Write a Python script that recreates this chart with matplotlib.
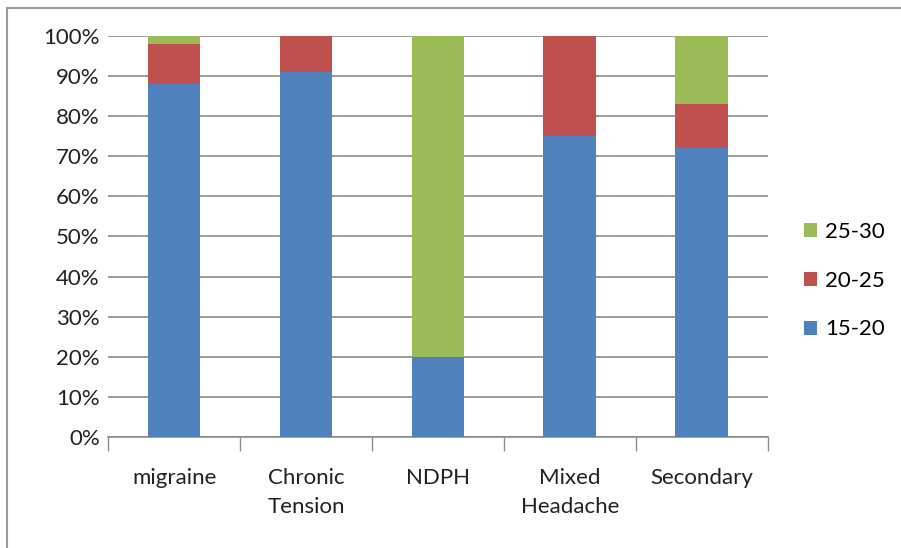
import matplotlib.pyplot as plt
from matplotlib.patches import Rectangle
from matplotlib.ticker import FuncFormatter, FixedLocator
import numpy as np

plt.rcParams['font.family'] = ['Lato', 'DejaVu Sans']

# headache groups and share of each age band (%)
categories = ["migraine", "Chronic\nTension", "NDPH", "Mixed\nHeadache", "Secondary"]
band_15_20 = [88, 91, 20, 75, 72]
band_20_25 = [10, 9, 0, 25, 11]
band_25_30 = [2, 0, 80, 0, 17]

colors = {"15-20": "#4f81bd", "20-25": "#c0504d", "25-30": "#9bbb59"}

fig = plt.figure(figsize=(9.01, 5.48), dpi=100)
ax = fig.add_axes([0.12, 0.2026, 0.732, 0.7317])

x = np.arange(len(categories))
w = 0.4
b1 = ax.bar(x, band_15_20, w, color=colors["15-20"], label="15-20", zorder=3)
b2 = ax.bar(x, band_20_25, w, bottom=band_15_20, color=colors["20-25"], label="20-25", zorder=3)
bottom3 = np.array(band_15_20) + np.array(band_20_25)
b3 = ax.bar(x, band_25_30, w, bottom=bottom3, color=colors["25-30"], label="25-30", zorder=3)

ax.set_xlim(-0.5, len(categories) - 0.5)
ax.set_ylim(0, 100)
ax.set_yticks(np.arange(0, 101, 10))
ax.yaxis.set_major_formatter(FuncFormatter(lambda v, p: f"{int(v)}%"))
ax.grid(axis='y', color='#8c8c8c', linewidth=1.2, zorder=0)
ax.tick_params(axis='y', length=0, labelsize=16, pad=6, colors='#222222')

# category labels between boundary ticks
ax.xaxis.set_major_locator(FixedLocator(np.arange(-0.5, len(categories), 1.0)))
ax.xaxis.set_major_formatter(FuncFormatter(lambda v, p: ""))
ax.xaxis.set_minor_locator(FixedLocator(x))
ax.set_xticklabels(categories, minor=True)
ax.tick_params(axis='x', which='major', length=10, width=1, color='#8c8c8c')
ax.tick_params(axis='x', which='minor', length=0, pad=22, labelsize=16, colors='#222222')
for t in ax.xaxis.get_minorticklabels():
    t.set_linespacing(1.6)
    t.set_verticalalignment('top')

for s in ['top', 'right', 'left']:
    ax.spines[s].set_visible(False)
ax.spines['bottom'].set_color('#8c8c8c')
ax.spines['bottom'].set_linewidth(1.2)

ax.legend(handles=[b3, b2, b1], loc='center left', bbox_to_anchor=(1.025, 0.39),
          frameon=False, fontsize=16, handlelength=0.6, handleheight=0.6,
          handletextpad=0.35, labelspacing=1.3)

# light frame around the chart
fig.patches.append(Rectangle((7 / 901, -0.05), 1.0, 1 - 8 / 548 + 0.05,
                             transform=fig.transFigure, fill=False,
                             edgecolor='#9a9a9a', linewidth=1.5))

fig.savefig("out.png", dpi=100)
